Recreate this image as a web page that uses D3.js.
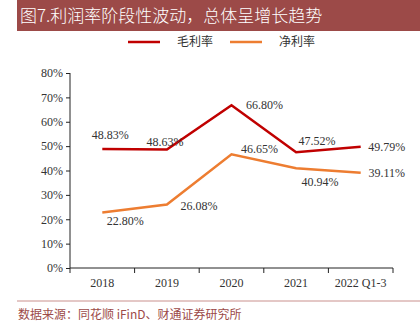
<!DOCTYPE html>
<html>
<head>
<meta charset="utf-8">
<script src="https://cdn.jsdelivr.net/npm/d3@7"></script>
<style>
  body { margin: 0; background: #fff; }
  svg text { font-family: "Liberation Serif", serif; }
  .cjk { font-family: "Noto Sans CJK SC", sans-serif !important; }
</style>
</head>
<body>
<svg id="canvas" width="420" height="336"></svg>
<script>
let years = ["2018", "2019", "2020", "2021", "2022 Q1-3"];
let grossMargin = [48.83, 48.63, 66.80, 47.52, 49.79];
let netMargin = [22.80, 26.08, 46.65, 40.94, 39.11];
let yTicks = [0, 10, 20, 30, 40, 50, 60, 70, 80];

// label offsets (dx, dy) relative to each point
let grossOffsets = [[8, -14], [-2, -8], [33, 0], [21, -11], [26, 0]];
let netOffsets = [[23, 8], [32, 1], [28, -5], [24, 14], [26, 0]];

let canvas = d3.select("#canvas");

// title bar
canvas.append("rect")
  .attr("x", 17).attr("y", 0).attr("width", 403).attr("height", 31)
  .attr("fill", "#9c4a48");
canvas.append("text")
  .attr("class", "cjk")
  .attr("x", 20).attr("y", 22)
  .attr("fill", "#fff")
  .attr("font-size", 17)
  .attr("font-weight", 300)
  .text("图7.利润率阶段性波动，总体呈增长趋势");

let x = d3.scaleBand()
  .domain(years)
  .range([70, 393]);

let y = d3.scaleLinear()
  .domain([0, 80])
  .range([268, 73]);

let yAxis = d3.axisLeft(y)
  .tickValues(yTicks)
  .tickSize(4)
  .tickFormat(d => d + "%");

let gy = canvas.append("g")
  .attr("transform", "translate(70,0)")
  .call(yAxis);

let xAxis = d3.axisBottom(x)
  .tickSize(0)
  .tickPadding(10);

let gx = canvas.append("g")
  .attr("transform", "translate(0,268)")
  .call(xAxis);

// tick marks at band edges
gx.selectAll(".edge")
  .data(years.map(d => x(d)).concat([x.range()[1]]))
  .enter()
  .append("line")
  .attr("x1", d => d).attr("x2", d => d)
  .attr("y1", 0).attr("y2", 5)
  .attr("stroke", "#222");

[gy, gx].forEach(g => {
  g.selectAll("path, line").attr("stroke", "#222");
  g.selectAll("text")
    .attr("font-family", "Liberation Serif")
    .attr("font-size", 12)
    .attr("fill", "#333");
});
gy.select(".domain").attr("d", "M0,73V268");
gx.select(".domain").attr("d", "M70,0H393");

let line = d3.line()
  .x((d, i) => x(years[i]) + x.bandwidth() / 2)
  .y(d => y(d));

let series = [
  { name: "毛利率", values: grossMargin, color: "#c00000", offsets: grossOffsets },
  { name: "净利率", values: netMargin, color: "#ed7d31", offsets: netOffsets }
];

series.forEach(s => {
  canvas.append("path")
    .attr("d", line(s.values))
    .attr("fill", "none")
    .attr("stroke", s.color)
    .attr("stroke-width", 2.5);

  canvas.append("g").selectAll("text")
    .data(s.values)
    .enter()
    .append("text")
    .attr("x", (d, i) => x(years[i]) + x.bandwidth() / 2 + s.offsets[i][0])
    .attr("y", (d, i) => y(d) + s.offsets[i][1])
    .attr("dy", "0.35em")
    .attr("text-anchor", "middle")
    .attr("font-size", 12)
    .attr("fill", "#333")
    .text(d => d.toFixed(2) + "%");
});

// legend
let legend = canvas.append("g");
let legendX = [128, 230];
series.forEach((s, i) => {
  legend.append("line")
    .attr("x1", legendX[i]).attr("x2", legendX[i] + 32)
    .attr("y1", 42).attr("y2", 42)
    .attr("stroke", s.color)
    .attr("stroke-width", 2.5);
  legend.append("text")
    .attr("class", "cjk")
    .attr("x", legendX[i] + 49)
    .attr("y", 42)
    .attr("dy", "0.35em")
    .attr("font-size", 12)
    .attr("fill", "#333")
    .text(s.name);
});

// footer
canvas.append("line")
  .attr("x1", 17).attr("x2", 420)
  .attr("y1", 301).attr("y2", 301)
  .attr("stroke", "#c9908d")
  .attr("stroke-width", 1);
canvas.append("text")
  .attr("class", "cjk")
  .attr("x", 18).attr("y", 315)
  .attr("dy", "0.35em")
  .attr("font-size", 12)
  .attr("fill", "#9c4a48")
  .text("数据来源：同花顺 iFinD、财通证券研究所");
</script>
</body>
</html>
